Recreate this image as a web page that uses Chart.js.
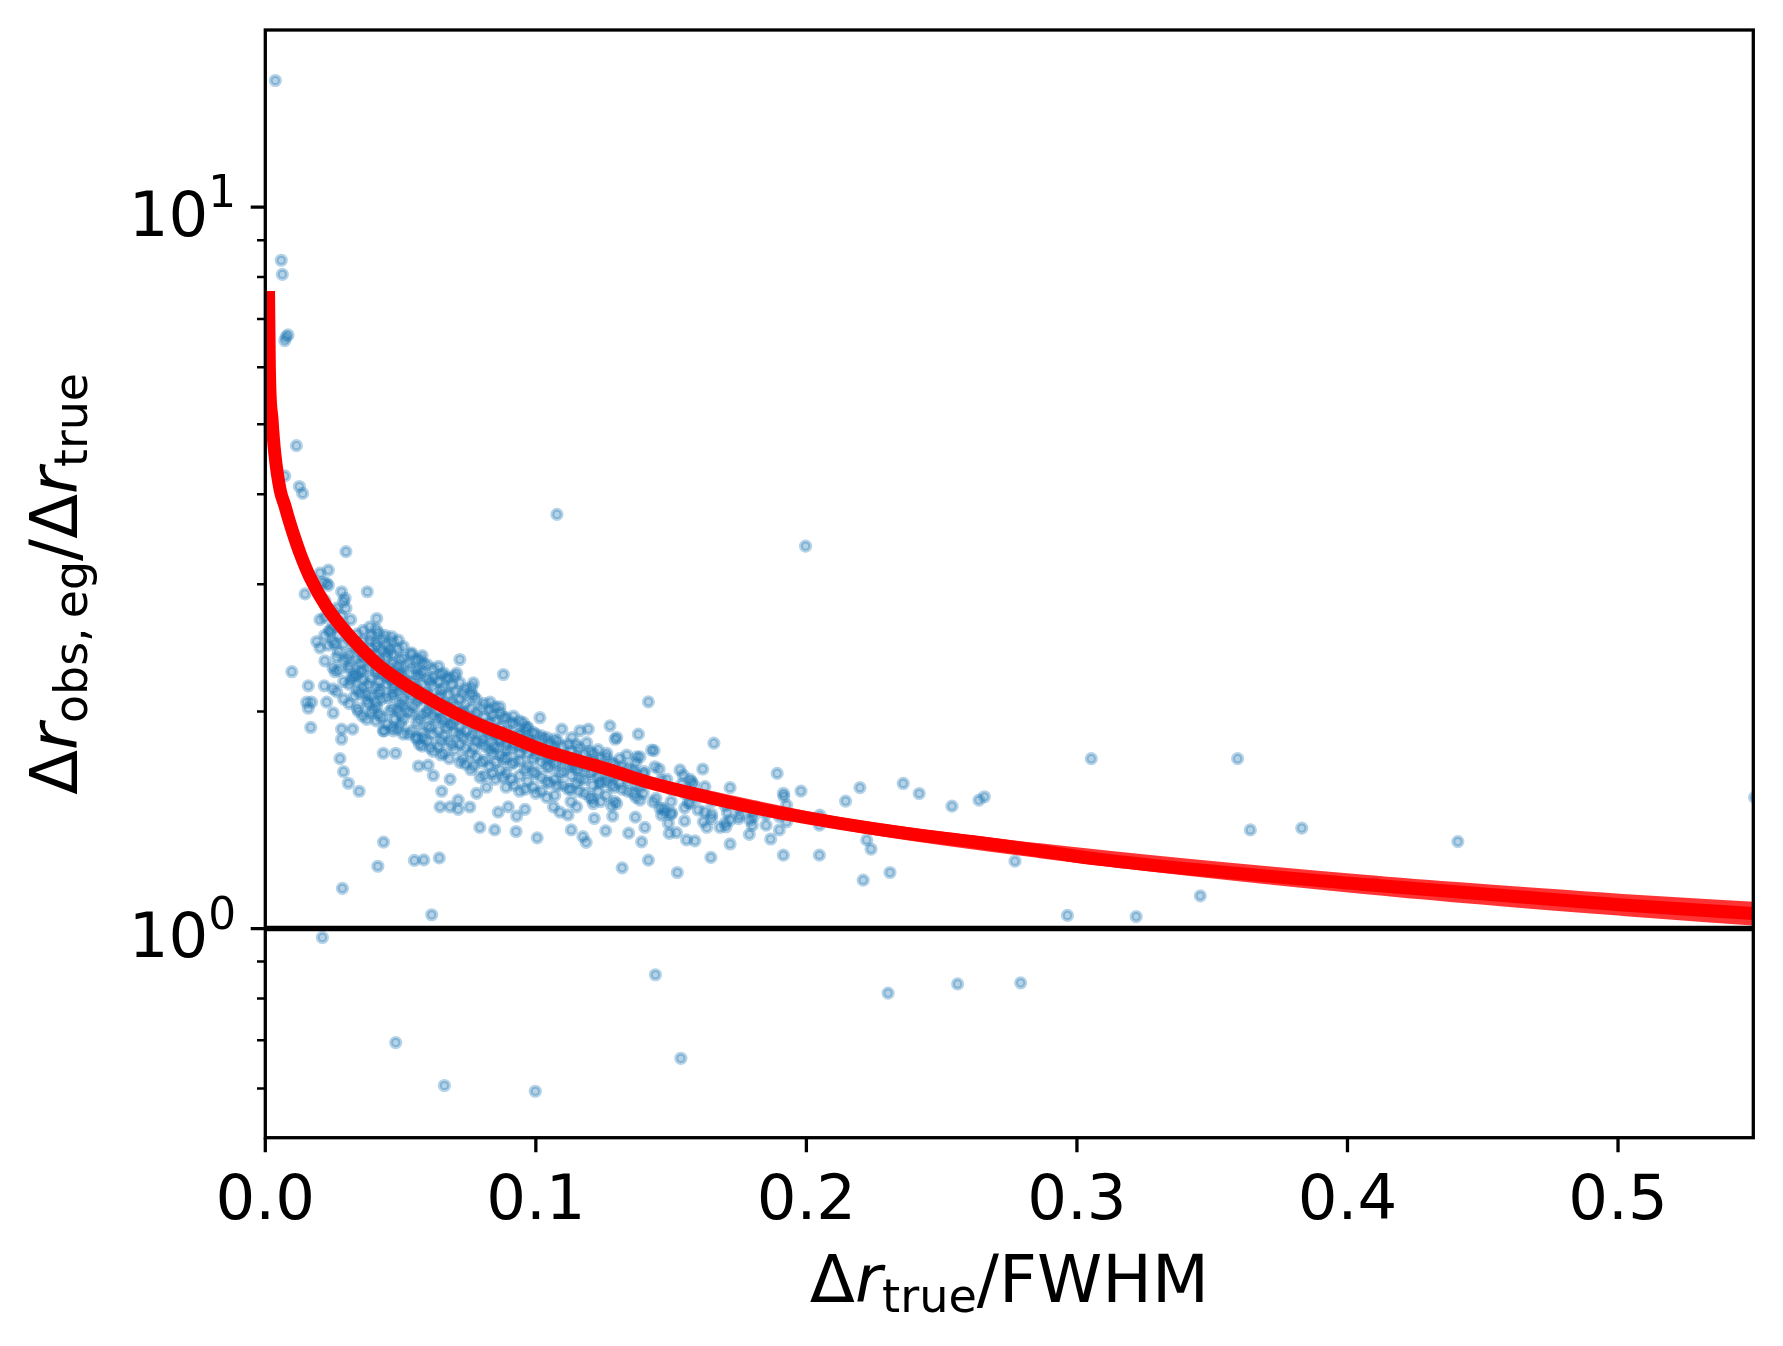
<!DOCTYPE html>
<html>
<head>
<meta charset="utf-8">
<script src="https://cdn.jsdelivr.net/npm/chart.js@4.4.1/dist/chart.umd.min.js"></script>
<style>
  html, body { margin: 0; padding: 0; background: #fff; }
  #wrap { width: 1783px; height: 1346px; }
</style>
</head>
<body>
<div id="wrap"><canvas id="fig" width="1783" height="1346"></canvas></div>
<script>
const FONT = "'DejaVu Sans', sans-serif";

// axis limits and ticks
const xRange = [0, 0.55];
const yRange = [0.513, 17.6];
const xTicks = [0, 0.1, 0.2, 0.3, 0.4, 0.5];
const yMajorTicks = [1, 10];
const yMajorExp = ["0", "1"];
const yMinorTicks = [0.6, 0.7, 0.8, 0.9, 2, 3, 4, 5, 6, 7, 8, 9];
const refLevel = 1;

// fitted relation
const curveX = [0.0012, 0.0015, 0.0025, 0.0035, 0.0055, 0.0072, 0.0086, 0.0103, 0.0130, 0.0165, 0.0227,
  0.0301, 0.0412, 0.0535, 0.0658, 0.0781, 0.0904, 0.1028, 0.1151, 0.1274, 0.1397,
  0.1631, 0.1878, 0.2124, 0.2371, 0.2617, 0.2863, 0.3085, 0.4051, 0.5017, 0.55];
const curveY = [7.65, 6.0, 5.07, 4.56, 4.05, 3.86, 3.70, 3.53, 3.30, 3.07, 2.79,
  2.57, 2.33, 2.16, 2.03, 1.925, 1.845, 1.768, 1.712, 1.659, 1.603,
  1.522, 1.452, 1.399, 1.355, 1.319, 1.282, 1.247, 1.152, 1.078, 1.049];
// spread of the sampled fits
const bandX = [0.1397, 0.2124, 0.2863, 0.4051, 0.5017, 0.55];
const bandUpper = [1.603, 1.406, 1.294, 1.171, 1.101, 1.074];
const bandLower = [1.603, 1.392, 1.270, 1.134, 1.056, 1.024];

// measured points [x, y]
const scatterPts = [
  [0.0037,14.98],[0.0059,8.44],[0.0063,8.07],[0.0077,6.61],[0.0072,6.53],[0.0084,6.65],
  [0.0115,4.67],[0.0072,4.24],[0.0126,4.10],[0.0138,4.01],[0.1078,3.75],[0.1997,3.39],
  [0.3053,1.72],[0.3594,1.72],[0.2965,1.043],[0.2792,0.841],[0.2559,0.838],[0.2302,0.814],[0.5505,1.52],
  [0.3641,1.37],[0.3831,1.378],[0.4408,1.32],[0.3456,1.11],[0.3219,1.039],[0.41,1.155],
  [0.0285,1.137],[0.0211,0.972],[0.0482,0.695],[0.0615,1.045],[0.0416,1.22],[0.0551,1.243],
  [0.0586,1.245],[0.0643,1.253],[0.0437,1.318],[0.0662,0.606],[0.0998,0.595],[0.1442,0.863],
  [0.1536,0.661],[0.1319,1.214],[0.0793,1.381],[0.0848,1.37],[0.0927,1.363],
  [0.1416,2.062],[0.1658,1.807],[0.1428,1.768],[0.1437,1.765],[0.1617,1.664],[0.1533,1.659],
  [0.1545,1.632],[0.157,1.61],[0.1576,1.597],[0.1456,1.664],[0.144,1.676],[0.14,1.638],
  [0.1463,1.606],[0.1484,1.61],[0.1385,1.73],[0.1892,1.641],[0.198,1.551],[0.1915,1.54],
  [0.1917,1.525],[0.1927,1.483],[0.2198,1.568],[0.2145,1.502],[0.2358,1.589],[0.2417,1.539],
  [0.2538,1.478],[0.2638,1.507],[0.2658,1.523],[0.2771,1.24],[0.2223,1.327],[0.2239,1.289],
  [0.2309,1.196],[0.221,1.167],[0.2048,1.264],[0.2048,1.391],[0.205,1.436],[0.1915,1.264],
  [0.1868,1.331],[0.1851,1.391],[0.1927,1.406],[0.1789,1.351],[0.1792,1.414],[0.1804,1.429],
  [0.1814,1.475],[0.1755,1.436],[0.1718,1.31],[0.1708,1.447],[0.1718,1.414],[0.1718,1.568],
  [0.1681,1.381],[0.1703,1.384],[0.1647,1.255],[0.1632,1.381],[0.1619,1.406],[0.165,1.421],
  [0.1625,1.451],[0.1625,1.573],[0.1588,1.323],[0.1557,1.327],[0.1523,1.196],[0.1493,1.355],
  [0.152,1.358],[0.149,1.399],[0.1502,1.447],[0.1465,1.436],[0.1471,1.468],[0.1416,1.244],
  [0.1403,1.381],[0.1391,1.319],[0.1385,1.507],[0.1397,1.54],[0.1434,1.498],[0.1444,1.515],
  [0.1459,1.468],[0.1478,1.451],[0.1539,1.586],[0.1563,1.494],[0.157,1.491],[0.1582,1.586],
  [0.0298,3.33],[0.0233,3.14],[0.0202,3.11],[0.0214,3.02],[0.0233,2.99],[0.0227,3.01],
  [0.0147,2.91],[0.0282,2.93],[0.0295,2.87],[0.0289,2.84],[0.0298,2.78],[0.0377,2.93],
  [0.0412,2.69],[0.0316,2.68],[0.0202,2.68],[0.0239,2.58],[0.019,2.50],[0.0202,2.45],
  [0.0233,2.47],[0.0098,2.27],[0.0159,2.17],[0.0153,2.06],[0.0159,2.02],[0.0171,2.06],
  [0.0168,1.90],[0.0218,2.17],[0.0227,2.06],[0.0251,1.99],[0.0264,2.13],[0.0282,1.89],
  [0.0282,1.83],[0.0323,1.89],[0.0276,1.72],[0.0289,1.65],[0.0307,1.59],[0.0347,1.55],
  [0.0436,1.75],[0.0482,1.75],[0.0344,2.00],[0.0375,1.95],[0.0375,2.11],[0.0399,2.01],
  [0.0439,1.88],[0.035,2.27],[0.0258,2.27],[0.031,2.29],[0.0264,2.38],[0.0303,2.37],
  [0.0317,2.21],[0.0326,2.23],[0.0237,2.59],[0.0258,2.48],[0.0264,2.78],[0.0282,2.71],
  [0.0362,2.59],[0.0387,2.62],[0.0418,2.57],[0.0442,2.55],[0.0467,2.54],[0.0492,2.51],
  [0.0541,2.41],[0.0572,2.36],[0.0584,2.33],[0.0707,2.26],[0.067,2.23],[0.0769,2.19],
  [0.0763,2.16],[0.0831,2.06],[0.0867,2.03],[0.0917,1.97],[0.0954,1.93],[0.1015,1.96],
  [0.088,2.25],[0.1096,1.89],[0.1194,1.89],[0.1274,1.91],[0.1293,1.83],[0.1336,1.74],
  [0.1373,1.73],[0.1385,1.57],[0.1299,1.49],[0.1212,1.49],[0.1151,1.475],[0.1089,1.45],
  [0.1065,1.475],[0.0646,1.475],[0.0683,1.475],[0.0713,1.507],[0.0713,1.463],[0.0861,1.45],
  [0.0898,1.475],[0.096,1.463],[0.0566,1.68],[0.0602,1.685],[0.0621,1.63],[0.0652,1.55],
  [0.0683,1.61],[0.0781,1.54],[0.0818,1.57],[0.0794,1.62],[0.0436,1.88],[0.0473,1.88],
  [0.0479,1.95],[0.056,1.83],[0.0584,1.84],[0.035,2.12],[0.0375,2.07],[0.0412,2.03],
  [0.0424,2.14],[0.0473,2.12],[0.051,2.07],[0.0991,1.79],[0.1052,1.73],[0.104,1.68],
  [0.1089,1.64],[0.1138,1.68],[0.1163,1.61],[0.1237,1.59],[0.1274,1.62],[0.1133,1.84],
  [0.1163,1.88],[0.1188,1.81],[0.1212,1.75],[0.1262,1.75],[0.1299,1.84],[0.1379,1.86],
  [0.0719,2.36],[0.0621,2.23],[0.056,2.28],[0.0498,2.36],[0.0449,2.41],[0.0412,2.46],
  [0.0387,2.51],[0.035,2.43],[0.035,2.33],[0.0523,2.21],[0.056,2.16],[0.0597,2.12],
  [0.0646,2.10],[0.067,2.03],[0.0719,1.99],[0.0744,1.95],[0.0781,1.93],[0.0818,1.90],
  [0.0843,1.86],[0.0867,1.83],[0.0904,1.84],[0.0941,1.86],[0.0966,1.90],[0.0978,1.83],
  [0.1003,1.77],[0.1028,1.83],[0.1065,1.79],[0.0941,1.75],[0.0892,1.77],[0.0843,1.79],
  [0.0806,1.83],[0.0769,1.86],[0.0719,1.86],[0.067,1.90],[0.0634,1.95],[0.0597,1.99],
  [0.0547,2.03],[0.0498,2.05],[0.0473,2.16],[0.0498,2.26],[0.0449,2.23],[0.0412,2.26],
  [0.0362,2.21],[0.0756,1.474],[0.0929,1.432],[0.1119,1.437],[0.1216,1.421],[0.1284,1.432],
  [0.1368,1.427],[0.1005,1.336],[0.1131,1.37],[0.1174,1.341],[0.1186,1.317],[0.1258,1.366],
  [0.1343,1.356],
  [0.033,2.45],[0.033,2.25],[0.033,2.10],[0.038,2.40],[0.038,2.30],[0.038,2.18],[0.038,2.05],
  [0.042,2.35],[0.042,2.20],[0.042,2.12],[0.042,1.98],[0.046,2.44],[0.046,2.30],[0.046,2.22],
  [0.046,2.00],[0.050,2.28],[0.050,2.18],[0.050,1.98],[0.050,1.92],[0.053,2.33],[0.053,2.12],
  [0.053,2.00],[0.053,1.86],[0.057,2.25],[0.057,2.08],[0.057,1.95],[0.057,1.80],[0.061,2.20],
  [0.061,2.04],[0.061,1.90],[0.061,1.78],[0.065,2.25],[0.065,2.14],[0.065,1.96],[0.065,1.82],
  [0.065,1.74],[0.069,2.18],[0.069,2.06],[0.069,1.92],[0.069,1.80],[0.073,2.12],[0.073,2.00],
  [0.073,1.84],[0.073,1.72],[0.077,2.10],[0.077,1.96],[0.077,1.78],[0.077,1.68],[0.080,2.02],
  [0.080,1.92],[0.080,1.81],[0.080,1.70],[0.084,1.98],[0.084,1.88],[0.084,1.75],[0.084,1.64],
  [0.088,1.96],[0.088,1.85],[0.088,1.72],[0.088,1.62],[0.092,1.92],[0.092,1.80],[0.092,1.70],
  [0.092,1.58],[0.096,1.88],[0.096,1.78],[0.096,1.66],[0.096,1.56],[0.100,1.86],[0.100,1.74],
  [0.100,1.64],[0.100,1.54],[0.104,1.84],[0.104,1.72],[0.104,1.60],[0.104,1.52],[0.108,1.82],
  [0.108,1.70],[0.108,1.58],[0.112,1.80],[0.112,1.68],[0.112,1.56],[0.116,1.78],[0.116,1.66],
  [0.116,1.55],[0.120,1.76],[0.120,1.64],[0.120,1.52],[0.124,1.72],[0.124,1.60],[0.124,1.50],
  [0.128,1.70],[0.128,1.58],[0.128,1.48],[0.132,1.68],[0.132,1.56],[0.136,1.66],[0.136,1.54],
  [0.022,2.85],[0.022,2.70],[0.022,2.55],[0.022,2.35],[0.025,2.75],[0.025,2.62],[0.025,2.50],
  [0.025,2.30],[0.025,2.15],[0.027,2.66],[0.027,2.55],[0.027,2.42],[0.027,2.28],[0.029,2.62],
  [0.029,2.48],[0.029,2.35],[0.029,2.20],[0.029,2.08],
  [0.031,2.52],[0.031,2.40],[0.031,2.31],[0.031,2.18],[0.031,2.05],
  [0.034,2.56],[0.034,2.47],[0.034,2.36],[0.034,2.24],[0.034,2.14],[0.034,2.02],
  [0.036,2.50],[0.036,2.38],[0.036,2.28],[0.036,2.16],[0.036,1.97],
  [0.039,2.55],[0.039,2.44],[0.039,2.34],[0.039,2.22],[0.039,2.10],[0.039,1.99],
  [0.041,2.60],[0.041,2.49],[0.041,2.40],[0.041,2.28],[0.041,2.16],[0.041,2.06],[0.041,1.94],
  [0.043,2.52],[0.043,2.43],[0.043,2.32],[0.043,2.25],[0.043,2.08],[0.043,1.96],
  [0.045,2.47],[0.045,2.38],[0.045,2.27],[0.045,2.18],[0.045,2.09],[0.045,1.92],
  [0.047,2.50],[0.047,2.40],[0.047,2.33],[0.047,2.20],[0.047,2.10],[0.047,2.02],[0.047,1.90],
  [0.049,2.44],[0.049,2.31],[0.049,2.24],[0.049,2.13],[0.049,2.01],[0.049,1.89],
  [0.051,2.46],[0.051,2.37],[0.051,2.25],[0.051,2.15],[0.051,2.04],[0.051,1.95],[0.051,1.86],
  [0.054,2.40],[0.054,2.30],[0.054,2.20],[0.054,2.10],[0.054,1.99],[0.054,1.88],
  [0.056,2.36],[0.056,2.24],[0.056,2.14],[0.056,2.06],[0.056,1.93],[0.056,1.84],
  [0.058,2.39],[0.058,2.27],[0.058,2.18],[0.058,2.09],[0.058,1.98],[0.058,1.87],[0.058,1.79],
  [0.060,2.32],[0.060,2.22],[0.060,2.11],[0.060,2.01],[0.060,1.91],[0.060,1.82],
  [0.062,2.29],[0.062,2.17],[0.062,2.07],[0.062,1.97],[0.062,1.86],[0.062,1.76],
  [0.064,2.31],[0.064,2.20],[0.064,2.09],[0.064,2.00],[0.064,1.88],[0.064,1.79],
  [0.066,2.26],[0.066,2.16],[0.066,2.05],[0.066,1.94],[0.066,1.85],[0.066,1.75],
  [0.068,2.22],[0.068,2.11],[0.068,2.02],[0.068,1.92],[0.068,1.82],[0.068,1.72],
  [0.070,2.24],[0.070,2.13],[0.070,2.04],[0.070,1.95],[0.070,1.87],[0.070,1.77],
  [0.072,2.19],[0.072,2.08],[0.072,1.99],[0.072,1.90],[0.072,1.80],[0.072,1.70],
  [0.074,2.15],[0.074,2.05],[0.074,1.97],[0.074,1.88],[0.074,1.78],[0.074,1.69],
  [0.076,2.12],[0.076,2.02],[0.076,1.93],[0.076,1.84],[0.076,1.75],[0.076,1.66],
  [0.078,2.08],[0.078,1.99],[0.078,1.90],[0.078,1.82],[0.078,1.73],
  [0.081,2.05],[0.081,1.96],[0.081,1.88],[0.081,1.79],[0.081,1.71],[0.081,1.63],
  [0.083,2.01],[0.083,1.93],[0.083,1.85],[0.083,1.77],[0.083,1.68],
  [0.085,2.03],[0.085,1.94],[0.085,1.86],[0.085,1.78],[0.085,1.70],[0.085,1.61],
  [0.087,1.99],[0.087,1.90],[0.087,1.82],[0.087,1.74],[0.087,1.66],
  [0.089,1.96],[0.089,1.88],[0.089,1.80],[0.089,1.72],[0.089,1.64],[0.089,1.57],
  [0.091,1.93],[0.091,1.85],[0.091,1.77],[0.091,1.69],[0.091,1.61],
  [0.094,1.94],[0.094,1.86],[0.094,1.79],[0.094,1.71],[0.094,1.63],[0.094,1.55],
  [0.097,1.90],[0.097,1.82],[0.097,1.75],[0.097,1.68],[0.097,1.60],
  [0.099,1.87],[0.099,1.80],[0.099,1.72],[0.099,1.65],[0.099,1.57],
  [0.102,1.85],[0.102,1.77],[0.102,1.70],[0.102,1.62],[0.102,1.55],
  [0.105,1.81],[0.105,1.74],[0.105,1.67],[0.105,1.59],
  [0.107,1.83],[0.107,1.76],[0.107,1.69],[0.107,1.61],[0.107,1.53],
  [0.110,1.79],[0.110,1.72],[0.110,1.65],[0.110,1.58],
  [0.113,1.76],[0.113,1.70],[0.113,1.63],[0.113,1.56],[0.113,1.50],
  [0.115,1.80],[0.115,1.73],[0.115,1.66],[0.115,1.59],
  [0.118,1.75],[0.118,1.68],[0.118,1.61],[0.118,1.54],
  [0.121,1.71],[0.121,1.65],[0.121,1.58],[0.121,1.51],
  [0.123,1.77],[0.123,1.69],[0.123,1.62],[0.123,1.55],
  [0.126,1.73],[0.126,1.66],[0.126,1.60],[0.126,1.53],
  [0.129,1.69],[0.129,1.63],[0.129,1.57],[0.129,1.50],
  [0.131,1.72],[0.131,1.65],[0.131,1.59],[0.134,1.67],[0.134,1.61],[0.134,1.55],
  [0.137,1.70],[0.137,1.64],[0.137,1.58],[0.137,1.52],[0.140,1.65],[0.140,1.60],
  [0.150,1.56],[0.150,1.50],[0.150,1.44],[0.155,1.54],[0.155,1.47],[0.155,1.41],
  [0.160,1.52],[0.160,1.46],[0.165,1.50],[0.165,1.44],[0.170,1.48],[0.170,1.40],
  [0.175,1.47],[0.175,1.42],[0.180,1.45],[0.180,1.39],[0.185,1.44],[0.190,1.43],[0.190,1.37]
];

const pairs = (xs, ys) => xs.map((v, i) => ({ x: v, y: ys[i] }));

function drawMath(ctx, segs, cx, baseY, big) {
  const small = big * 0.7, drop = big * 0.155;
  const fontOf = s => (s.it ? "oblique " : "") + (s.sub ? small : big) + "px " + FONT;
  let total = 0;
  segs.forEach(s => { ctx.font = fontOf(s); s.w = ctx.measureText(s.t).width; total += s.w; });
  let x = cx - total / 2;
  segs.forEach(s => {
    ctx.font = fontOf(s);
    ctx.fillText(s.t, x, baseY + (s.sub ? drop : 0));
    x += s.w;
  });
}

const axisDecor = {
  id: "axisDecor",
  afterDraw(chart) {
    const { ctx, chartArea: a, scales: { x, y } } = chart;
    ctx.save();
    ctx.strokeStyle = "#000";
    ctx.fillStyle = "#000";
    ctx.lineCap = "butt";

    // frame
    ctx.lineWidth = 3.3;
    ctx.strokeRect(a.left, a.top, a.right - a.left, a.bottom - a.top);

    // major ticks
    ctx.beginPath();
    xTicks.forEach(v => {
      const px = x.getPixelForValue(v);
      ctx.moveTo(px, a.bottom); ctx.lineTo(px, a.bottom + 14.6);
    });
    yMajorTicks.forEach(v => {
      const py = y.getPixelForValue(v);
      ctx.moveTo(a.left, py); ctx.lineTo(a.left - 14.6, py);
    });
    ctx.stroke();

    // minor ticks on the log axis
    ctx.lineWidth = 2.5;
    ctx.beginPath();
    yMinorTicks.forEach(v => {
      const py = y.getPixelForValue(v);
      ctx.moveTo(a.left, py); ctx.lineTo(a.left - 8.3, py);
    });
    ctx.stroke();

    // y tick labels 10^n
    const right = a.left - 29.2;
    ctx.textAlign = "left";
    ctx.textBaseline = "alphabetic";
    yMajorTicks.forEach((v, i) => {
      const py = y.getPixelForValue(v);
      ctx.font = "43.75px " + FONT;
      const wExp = ctx.measureText(yMajorExp[i]).width;
      ctx.font = "62.5px " + FONT;
      const wBase = ctx.measureText("10").width;
      ctx.fillText("10", right - wExp - wBase, py + 28.5);
      ctx.font = "43.75px " + FONT;
      ctx.fillText(yMajorExp[i], right - wExp, py);
    });

    // axis titles
    drawMath(ctx, [{ t: "Δ" }, { t: "r", it: 1 }, { t: "true", sub: 1 }, { t: "/FWHM" }],
      (a.left + a.right) / 2, 1302, 66);
    ctx.save();
    ctx.translate(77.3, (a.top + a.bottom) / 2);
    ctx.rotate(-Math.PI / 2);
    drawMath(ctx, [{ t: "Δ" }, { t: "r", it: 1 }, { t: "obs,\u2009eg", sub: 1 }, { t: "/Δ" },
      { t: "r", it: 1 }, { t: "true", sub: 1 }], 0, 0, 65.5);
    ctx.restore();
    ctx.restore();
  }
};

new Chart(document.getElementById("fig"), {
  type: "scatter",
  data: {
    datasets: [
      {
        label: "unity",
        data: [{ x: xRange[0], y: refLevel }, { x: xRange[1], y: refLevel }],
        showLine: true,
        borderColor: "#000",
        borderWidth: 5.5,
        pointRadius: 0,
        clip: 0,
        order: 0,
      },
      {
        label: "fit",
        data: pairs(curveX, curveY),
        showLine: true,
        cubicInterpolationMode: "monotone",
        borderColor: "#ff0000",
        borderWidth: 13,
        pointRadius: 0,
        clip: 0,
        order: 1,
      },
      {
        label: "fit upper",
        data: pairs(bandX, bandUpper),
        showLine: true,
        cubicInterpolationMode: "monotone",
        borderColor: "rgba(255,0,0,0.8)",
        borderWidth: 9,
        pointRadius: 0,
        clip: 0,
        order: 2,
      },
      {
        label: "fit lower",
        data: pairs(bandX, bandLower),
        showLine: true,
        cubicInterpolationMode: "monotone",
        borderColor: "rgba(255,0,0,0.8)",
        borderWidth: 9,
        pointRadius: 0,
        clip: 0,
        order: 3,
      },
      {
        label: "data",
        data: scatterPts.map(p => ({ x: p[0], y: p[1] })),
        pointRadius: 4.6,
        pointBorderWidth: 4,
        pointBackgroundColor: "rgba(31,119,180,0.33)",
        pointBorderColor: "rgba(31,119,180,0.33)",
        clip: 0,
        order: 5,
      },
    ],
  },
  options: {
    responsive: false,
    animation: false,
    devicePixelRatio: 1,
    events: [],
    layout: { padding: { left: 0, right: 29.7, top: 30, bottom: 0 } },
    plugins: { legend: { display: false }, tooltip: { enabled: false } },
    scales: {
      x: {
        type: "linear",
        min: xRange[0],
        max: xRange[1],
        afterBuildTicks: s => { s.ticks = xTicks.map(v => ({ value: v })); },
        afterFit: s => { s.height = 208.3; },
        grid: { display: false, drawTicks: false },
        border: { display: false },
        ticks: {
          color: "#000",
          font: { family: FONT, size: 62.5 },
          padding: 28,
          maxRotation: 0,
          autoSkip: false,
          callback: v => v.toFixed(1),
        },
      },
      y: {
        type: "logarithmic",
        min: yRange[0],
        max: yRange[1],
        afterBuildTicks: s => { s.ticks = yMinorTicks.concat(yMajorTicks).map(v => ({ value: v })); },
        afterFit: s => { s.width = 265.3; },
        grid: { display: false, drawTicks: false },
        border: { display: false },
        ticks: { display: false },
      },
    },
  },
  plugins: [axisDecor],
});
</script>
</body>
</html>
